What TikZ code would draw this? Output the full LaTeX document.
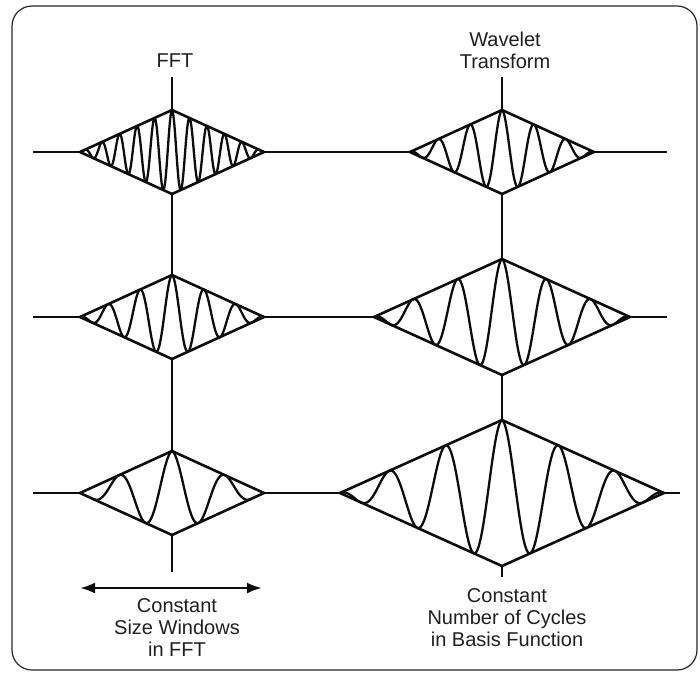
\documentclass[tikz,border=0pt]{standalone}
\usepackage{fontspec}
\setmainfont{Liberation Sans}
\usetikzlibrary{arrows.meta}
\newcommand\wavebox[7]{%
  \coordinate (#1L) at (#2-#4,#3);
  \coordinate (#1R) at (#2+#4,#3);
  \coordinate (#1T) at (#2,#3-#5);
  \coordinate (#1B) at (#2,#3+#5);
  \draw[axis, line join=miter] (#1L) -- (#1T) -- (#1R) -- (#1B) -- cycle;
  \draw[wave] plot[domain=-#7:#7, samples=500] ({#2+\x}, {#3-#5*(1-abs(\x)/#4)*cos(\x/#6*360)});
}
\begin{document}
\begin{tikzpicture}[x=1pt,y=-1pt,
  frame/.style={draw=black!85, line width=1.2pt, rounded corners=20pt},
  axis/.style={draw=black!95, line width=2.6pt},
  wave/.style={draw=black!95, line width=2.3pt, line join=round},
  lbl/.style={font=\fontsize{20}{22}\selectfont, text=black!88, align=center, inner sep=0pt, anchor=north}]
\useasboundingbox (0,0) rectangle (700,673);
\draw[frame] (12,6) rectangle (697,670);

% FFT column
\wavebox{f1}{172}{152}{92}{42}{17.5}{92}
\wavebox{f2}{172}{317}{92}{42}{32}{92}
\wavebox{f3}{172}{493}{92}{42}{53}{79.5}
% Wavelet column
\wavebox{w1}{502}{152}{92}{42}{32}{92}
\wavebox{w2}{502}{317}{128}{58}{44.5}{128}
\wavebox{w3}{502}{493}{162}{73}{56.5}{162}

% free ends
\coordinate (r1a) at (33,152);  \coordinate (r1b) at (667,152);
\coordinate (r2a) at (33,317);  \coordinate (r2b) at (667,317);
\coordinate (r3a) at (33,493);  \coordinate (r3b) at (680,493);
\coordinate (fTop) at (172,77); \coordinate (fBot) at (172,572);
\coordinate (wTop) at (502,77); \coordinate (wBot) at (502,577);
\coordinate (aL) at (80,588);   \coordinate (aR) at (262,588);

% horizontal lines
\draw[axis] (r1a) -- (f1L);  \draw[axis] (f1R) -- (w1L);  \draw[axis] (w1R) -- (r1b);
\draw[axis] (r2a) -- (f2L);  \draw[axis] (f2R) -- (w2L);  \draw[axis] (w2R) -- (r2b);
\draw[axis] (r3a) -- (f3L);  \draw[axis] (f3R) -- (w3L);  \draw[axis] (w3R) -- (r3b);
% vertical lines
\draw[axis] (fTop) -- (f1T);  \draw[axis] (f1B) -- (f2T);  \draw[axis] (f2B) -- (f3T);  \draw[axis] (f3B) -- (fBot);
\draw[axis] (wTop) -- (w1T);  \draw[axis] (w1B) -- (w2T);  \draw[axis] (w2B) -- (w3T);  \draw[axis] (w3B) -- (wBot);

% arrow
\draw[axis, {Latex[length=15pt,width=11pt]}-{Latex[length=15pt,width=11pt]}] (aL) -- (aR);

% labels
\node[lbl] (tfft) at (175,53.7) {FFT};
\node[lbl] (twav) at (505,31.7) {Wavelet\\Transform};
\node[lbl] (tleft) at (177,598) {Constant\\Size Windows\\in FFT};
\node[lbl] (tright) at (507,588) {Constant\\Number of Cycles\\in Basis Function};
\end{tikzpicture}
\end{document}
